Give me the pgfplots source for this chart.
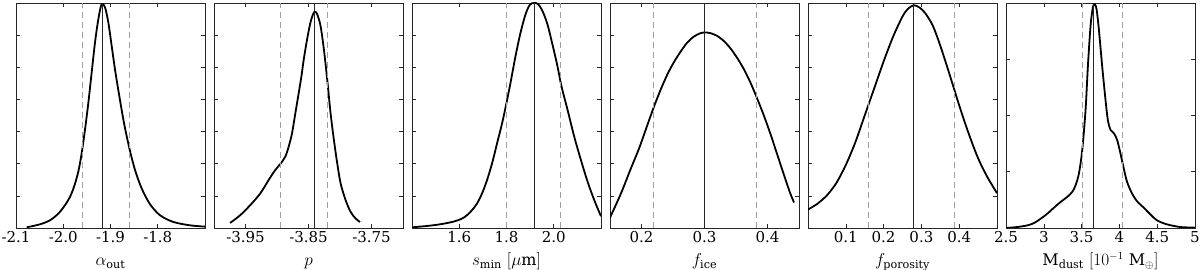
\documentclass[border=0pt]{standalone}
\usepackage{fontspec}
\setmainfont{DejaVu Serif}
\usepackage{pgfplots}
\pgfplotsset{compat=1.18}
\pgfplotsset{
 panel/.style={
  scale only axis, width=189pt, height=225pt, ymin=0, ymax=1,
  anchor=south west,
  axis line style={black!85, line width=0.8pt},
  tick align=inside, major tick length=4pt,
  tick style={black!85, line width=0.6pt},
  ytick={0.142857,0.285714,0.428571,0.571429,0.714286,0.857143},
  yticklabels={},
  xticklabel style={font=\fontsize{15}{17}\selectfont},
  xlabel style={font=\fontsize{16}{18}\selectfont, text height=12pt, text depth=4pt, yshift=-4pt},
 },
 dens/.style={black, line width=1.8pt, smooth, tension=0.5},
 med/.style={black!85, line width=0.8pt},
 qq/.style={gray!75, line width=0.8pt, dash pattern=on 6pt off 4pt},
}
\begin{document}
\begin{tikzpicture}
\path[use as bounding box] (0pt,0pt) rectangle (1200pt,270pt);
% Panel 1
\begin{axis}[panel, at={(16pt,42pt)}, xmin=-2.1, xmax=-1.7,
  xtick={-2.1,-2.0,-1.9,-1.8}, xticklabels={-2.1,-2.0,-1.9,-1.8},
  xlabel={$\alpha_{\mathrm{out}}$}]
\addplot[dens] coordinates {
(-2.0774,0.003)(-2.0492,0.0164)(-2.028,0.0343)(-2.0104,0.0641)(-1.9963,0.1013)
(-1.9857,0.1386)(-1.9772,0.1833)(-1.9681,0.2504)(-1.961,0.3323)(-1.954,0.4367)
(-1.9469,0.5559)(-1.9399,0.69)(-1.9328,0.8241)(-1.9257,0.9285)(-1.9187,0.9955)
(-1.9116,0.9806)(-1.9046,0.9136)(-1.8975,0.8092)(-1.8905,0.7049)(-1.8813,0.5857)
(-1.8714,0.4665)(-1.8601,0.3547)(-1.8481,0.2578)(-1.834,0.1759)(-1.8164,0.1058)
(-1.7952,0.0566)(-1.767,0.0268)(-1.7317,0.0119)(-1.7,0.006)};
\addplot[med] coordinates {(-1.9165,0) (-1.9165,1)};
\addplot[qq] coordinates {(-1.960,0) (-1.960,1)};
\addplot[qq] coordinates {(-1.859,0) (-1.859,1)};
\end{axis}
% Panel 2
\begin{axis}[panel, at={(214pt,42pt)}, xmin=-4.0, xmax=-3.7,
  xtick={-3.95,-3.85,-3.75}, xticklabels={-3.95,-3.85,-3.75},
  xlabel={$p$}]
\addplot[dens] coordinates {
(-3.9745,0.0224)(-3.9585,0.0566)(-3.9426,0.1013)(-3.9266,0.1535)(-3.9133,0.2131)
(-3.9027,0.2578)(-3.8947,0.2846)(-3.8868,0.3174)(-3.8814,0.3621)(-3.8761,0.4218)
(-3.8708,0.5112)(-3.8655,0.6006)(-3.8612,0.6751)(-3.8575,0.7496)(-3.8522,0.839)
(-3.8469,0.9136)(-3.8426,0.9508)(-3.8400,0.9613)(-3.8363,0.9508)(-3.8309,0.8987)
(-3.8256,0.7943)(-3.8203,0.6602)(-3.8150,0.5112)(-3.8097,0.392)(-3.8044,0.2876)
(-3.7990,0.1982)(-3.7911,0.1237)(-3.7831,0.0715)(-3.7751,0.0417)(-3.7682,0.0268)};
\addplot[med] coordinates {(-3.840,0) (-3.840,1)};
\addplot[qq] coordinates {(-3.894,0) (-3.894,1)};
\addplot[qq] coordinates {(-3.820,0) (-3.820,1)};
\end{axis}
% Panel 3
\begin{axis}[panel, at={(412pt,42pt)}, xmin=1.4, xmax=2.2,
  xtick={1.6,1.8,2.0}, xticklabels={1.6,1.8,2.0},
  xlabel={$s_{\mathrm{min}}\ [\mu\mathrm{m}]$}]
\addplot[dens] coordinates {
(1.4,0.003)(1.4624,0.0089)(1.5191,0.0164)(1.5759,0.0283)(1.6113,0.0417)
(1.6326,0.0566)(1.6539,0.079)(1.6752,0.1088)(1.6965,0.1535)(1.7177,0.2131)
(1.7390,0.2876)(1.7603,0.377)(1.7816,0.4665)(1.8,0.5559)(1.8170,0.6453)
(1.8383,0.7645)(1.8596,0.8689)(1.8809,0.9508)(1.8993,0.9925)(1.9163,1.0)
(1.9333,0.9955)(1.9518,0.9657)(1.9731,0.9061)(1.9943,0.8167)(2.0156,0.7198)
(2.0326,0.6304)(2.0582,0.5261)(2.0865,0.4069)(2.1149,0.3025)(2.1433,0.2057)
(2.1716,0.1237)(2.2,0.0522)};
\addplot[med] coordinates {(1.916,0) (1.916,1)};
\addplot[qq] coordinates {(1.80,0) (1.80,1)};
\addplot[qq] coordinates {(2.03,0) (2.03,1)};
\end{axis}
% Panel 4
\begin{axis}[panel, at={(610pt,42pt)}, xmin=0.15, xmax=0.45,
  xtick={0.2,0.3,0.4}, xticklabels={0.2,0.3,0.4},
  xlabel={$f_{\mathrm{ice}}$}]
\addplot[dens] coordinates {
(0.15,0.0462)(0.1674,0.1535)(0.1832,0.2653)(0.1963,0.3547)(0.2095,0.459)
(0.22,0.541)(0.2305,0.6155)(0.2411,0.6826)(0.2516,0.7377)(0.2621,0.7839)
(0.2726,0.8241)(0.2832,0.851)(0.2937,0.8659)(0.3016,0.8689)(0.3095,0.8659)
(0.32,0.854)(0.3305,0.8316)(0.3411,0.7988)(0.3516,0.7571)(0.3621,0.7079)
(0.3726,0.6483)(0.3832,0.5782)(0.3937,0.5037)(0.4042,0.4218)(0.4148,0.3323)
(0.4253,0.2429)(0.4358,0.1565)(0.4421,0.1133)};
\addplot[med] coordinates {(0.3,0) (0.3,1)};
\addplot[qq] coordinates {(0.2185,0) (0.2185,1)};
\addplot[qq] coordinates {(0.382,0) (0.382,1)};
\end{axis}
% Panel 5
\begin{axis}[panel, at={(808pt,42pt)}, xmin=0, xmax=0.5,
  xtick={0.1,0.2,0.3,0.4}, xticklabels={0.1,0.2,0.3,0.4},
  xlabel={$f_{\mathrm{porosity}}$}]
\addplot[dens] coordinates {
(0.0,0.082)(0.025,0.108)(0.05,0.145)(0.075,0.2)(0.1,0.28)(0.125,0.38)
(0.15,0.5)(0.175,0.62)(0.2,0.74)(0.225,0.85)(0.25,0.94)(0.265,0.975)
(0.28,0.99)(0.295,0.98)(0.31,0.955)(0.33,0.9)(0.35,0.81)(0.375,0.68)
(0.4,0.545)(0.425,0.42)(0.45,0.31)(0.475,0.225)(0.5,0.155)};
\addplot[med] coordinates {(0.28,0) (0.28,1)};
\addplot[qq] coordinates {(0.161,0) (0.161,1)};
\addplot[qq] coordinates {(0.386,0) (0.386,1)};
\end{axis}
% Panel 6
\begin{axis}[panel, at={(1006pt,42pt)}, xmin=2.5, xmax=5,
  ytick={0.25,0.5,0.75},
  xtick={2.5,3,3.5,4,4.5,5}, xticklabels={2.5,3,3.5,4,4.5,5},
  xlabel={$\mathrm{M}_{\mathrm{dust}}\ [10^{-1}\ \mathrm{M}_\oplus]$}]
\addplot[dens] coordinates {
(2.5,0.0)(2.6535,0.0045)(2.7851,0.0119)(2.8728,0.0224)(2.9605,0.0417)
(3.0482,0.0641)(3.136,0.0909)(3.2237,0.1162)(3.3114,0.1386)(3.3772,0.161)
(3.4211,0.1908)(3.4649,0.2429)(3.5088,0.3472)(3.5526,0.5261)(3.5833,0.7198)
(3.6184,0.8987)(3.6491,0.9806)(3.6711,0.9955)(3.6974,0.9732)(3.7281,0.8838)
(3.7719,0.7198)(3.8158,0.5708)(3.8465,0.4814)(3.8816,0.4367)(3.9254,0.4218)
(3.9693,0.392)(4.0132,0.3323)(4.057,0.2653)(4.1009,0.2057)(4.1667,0.1535)
(4.2325,0.1192)(4.3202,0.0909)(4.4079,0.0611)(4.4956,0.0343)(4.6272,0.0164)
(4.8026,0.0045)(5.0,0.0015)};
\addplot[med] coordinates {(3.66,0) (3.66,1)};
\addplot[qq] coordinates {(3.51,0) (3.51,1)};
\addplot[qq] coordinates {(4.04,0) (4.04,1)};
\end{axis}
\end{tikzpicture}
\end{document}
